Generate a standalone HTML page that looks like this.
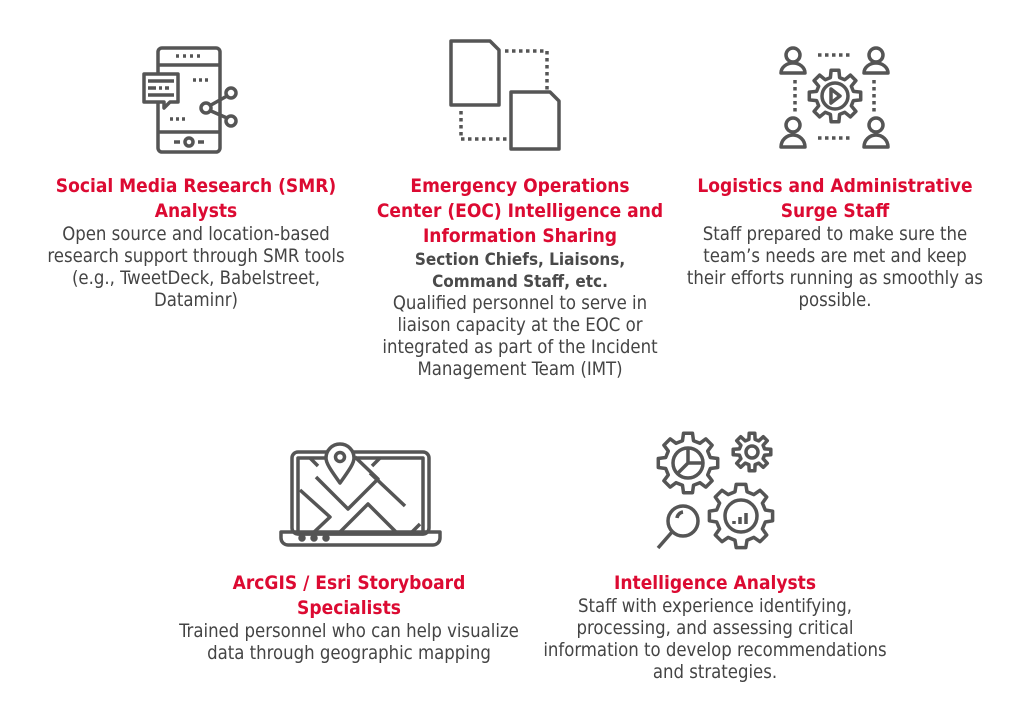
<!DOCTYPE html>
<html><head><meta charset="utf-8"><style>
html,body{margin:0;padding:0;background:#fff;}
body{width:1024px;height:711px;position:relative;overflow:hidden;font-family:"DejaVu Sans Condensed","DejaVu Sans",sans-serif;}
.b{position:absolute;text-align:center;width:400px;}
.t{color:#dc0a32;font-weight:bold;font-size:19px;line-height:25px;}
.s{color:#4a4a4a;font-weight:bold;font-size:17px;line-height:22px;}
.d{color:#444;font-size:18.4px;line-height:22px;}
svg{position:absolute;left:0;top:0;}
</style></head><body>
<svg width="1024" height="711" fill="none" stroke="#555" stroke-width="3.5" stroke-linejoin="round" stroke-linecap="butt">
<!-- phone -->
<rect x="158" y="48" width="62" height="104" rx="4"/>
<line x1="158" y1="65" x2="220" y2="65"/><line x1="158" y1="132" x2="220" y2="132"/>
<line x1="176" y1="56" x2="204" y2="56" stroke-dasharray="3 4"/>
<line x1="174" y1="142" x2="180" y2="142"/><circle cx="189" cy="142" r="4"/><line x1="198" y1="142" x2="204" y2="142"/>
<line x1="193" y1="80" x2="210" y2="80" stroke-dasharray="3 3"/>
<line x1="170" y1="119" x2="188" y2="119" stroke-dasharray="3 3"/>
<path d="M144 74h34v28h-8l-6 6v-6h-20z" fill="#fff"/>
<line x1="148" y1="81" x2="174" y2="81"/><line x1="148" y1="88" x2="174" y2="88" stroke-dasharray="8 3 3 3 4"/><line x1="148" y1="95" x2="174" y2="95"/>
<circle cx="206" cy="108" r="5" fill="#fff"/><circle cx="231" cy="93" r="5"/><circle cx="231" cy="121" r="5"/>
<line x1="211" y1="105" x2="227" y2="96"/><line x1="211" y1="111" x2="227" y2="118"/>
<!-- docs -->
<path d="M451 41h39l9 9v55h-48z"/>
<path d="M511 92h39l9 9v48h-48z"/>
<path d="M505 51h42v40" stroke-dasharray="3.5 3.5"/>
<path d="M461 111v28h46" stroke-dasharray="3.5 3.5"/>
<!-- people -->
<circle cx="793" cy="55" r="7"/><path d="M781 73a12 10 0 0 1 24 0z"/>
<circle cx="876" cy="55" r="7"/><path d="M864 73a12 10 0 0 1 24 0z"/>
<circle cx="793" cy="125" r="7"/><path d="M781 147a12 12 0 0 1 24 0z"/>
<circle cx="876" cy="125" r="7"/><path d="M864 147a12 12 0 0 1 24 0z"/>
<line x1="818" y1="55" x2="852" y2="55" stroke-dasharray="3.5 3.5"/>
<line x1="818" y1="138" x2="852" y2="138" stroke-dasharray="3.5 3.5"/>
<line x1="795" y1="80" x2="795" y2="112" stroke-dasharray="3.5 3.5"/>
<line x1="874" y1="80" x2="874" y2="112" stroke-dasharray="3.5 3.5"/>
<path data-g="835,96,19,26,8"/>
<circle cx="835" cy="96" r="13"/><path d="M831 89l9 7-9 7z"/>
<!-- laptop -->
<rect x="292" y="452" width="137" height="82" rx="6"/>
<rect x="298" y="458" width="125" height="76"/>
<path d="M281 532h159v6a7 7 0 0 1-7 7H288a7 7 0 0 1-7-7z"/>
<circle cx="302" cy="538" r="2" fill="#555"/><circle cx="314" cy="538" r="2" fill="#555"/><circle cx="326" cy="538" r="2" fill="#555"/>
<path d="M300 490l30 27-18 17M316 477l32 32 30-30-23-22M338 534l30-30 27 27-8 3M370 473l35 33M380 458l-8 8M310 458l8 8M410 534l10-10"/>
<path d="M340 483c-10-14-14-20-14-25a14 14 0 0 1 28 0c0 5-4 11-14 25z" fill="#fff"/><circle cx="340" cy="457" r="4.5"/>
<!-- gears -->
<path data-g="688,463,23,30,8"/><circle cx="688" cy="463" r="15"/>
<path d="M688 448v15h15M688 463l-10 10"/>
<path data-g="752,452,13,19,8"/><circle cx="752" cy="452" r="6"/>
<path data-g="741,516,25,32,8"/><circle cx="741" cy="516" r="16"/>
<path d="M734 521v3M740 517v7M746 513v11"/>
<circle cx="683" cy="521" r="15"/><path d="M677 518a7 7 0 0 1 6-6"/><line x1="672" y1="532" x2="658" y2="548"/>
</svg>
<script>
document.querySelectorAll('path[data-g]').forEach(function(p){
var a=p.getAttribute('data-g').split(',').map(Number),cx=a[0],cy=a[1],r1=a[2],r2=a[3],n=a[4],d='';
for(var i=0;i<n;i++){var b=i*2*Math.PI/n,w=Math.PI/n;
var pts=[[r1,b-w*0.62],[r2,b-w*0.38],[r2,b+w*0.38],[r1,b+w*0.62]];
pts.forEach(function(q,j){var x=cx+q[0]*Math.cos(q[1]),y=cy+q[0]*Math.sin(q[1]);d+=(i==0&&j==0?'M':'L')+x.toFixed(1)+' '+y.toFixed(1);});}
p.setAttribute('d',d+'Z');});
</script>

<div class="b" style="left:-4px;top:174px"><div class="t">Social Media Research (SMR)<br>Analysts</div><div class="d">Open source and location-based<br>research support through SMR tools<br>(e.g., TweetDeck, Babelstreet,<br>Dataminr)</div></div>

<div class="b" style="left:320px;top:174px"><div class="t">Emergency Operations<br>Center (EOC) Intelligence and<br>Information Sharing</div><div class="s">Section Chiefs, Liaisons,<br>Command Staff, etc.</div><div class="d">Qualified personnel to serve in<br>liaison capacity at the EOC or<br>integrated as part of the Incident<br>Management Team (IMT)</div></div>

<div class="b" style="left:635px;top:174px"><div class="t">Logistics and Administrative<br>Surge Staff</div><div class="d">Staff prepared to make sure the<br>team’s needs are met and keep<br>their efforts running as smoothly as<br>possible.</div></div>

<div class="b" style="left:149px;top:571px"><div class="t">ArcGIS / Esri Storyboard<br>Specialists</div><div class="d">Trained personnel who can help visualize<br>data through geographic mapping</div></div>

<div class="b" style="left:515px;top:571px"><div class="t">Intelligence Analysts</div><div class="d">Staff with experience identifying,<br>processing, and assessing critical<br>information to develop recommendations<br>and strategies.</div></div>
</body></html>
